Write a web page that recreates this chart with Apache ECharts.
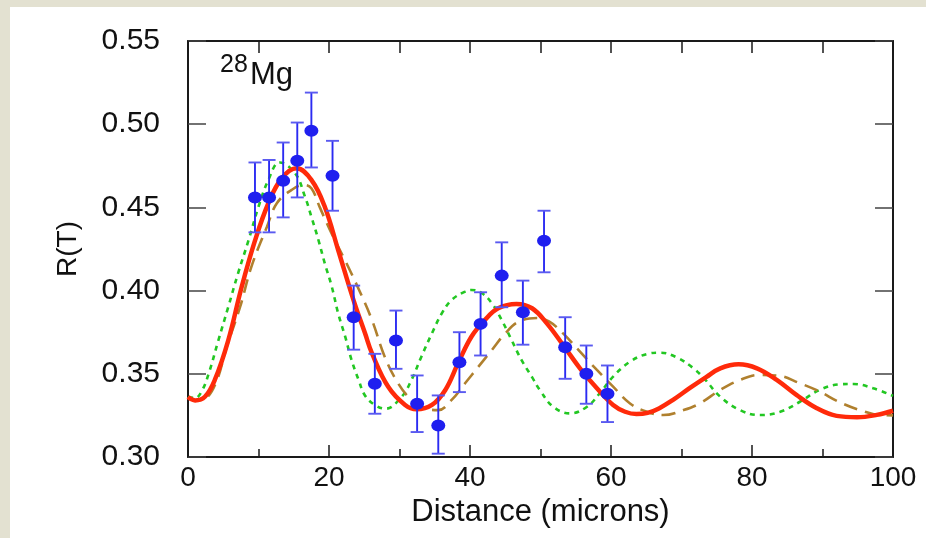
<!DOCTYPE html>
<html>
<head>
<meta charset="utf-8">
<script src="https://cdn.jsdelivr.net/npm/echarts@6/dist/echarts.min.js"></script>
<style>
html,body{margin:0;padding:0;background:#fff;}
#c{width:926px;height:538px;}
</style>
</head>
<body>
<div id="c"></div>
<script>
// Measured data points with error bars
const dataX = [9.5, 11.5, 13.5, 15.5, 17.5, 20.5, 23.5, 26.5, 29.5, 32.5, 35.5, 38.5, 41.5, 44.5, 47.5, 50.5, 53.5, 56.5, 59.5];
const dataY = [0.456, 0.456, 0.466, 0.478, 0.496, 0.469, 0.384, 0.344, 0.370, 0.332, 0.319, 0.357, 0.380, 0.409, 0.387, 0.430, 0.366, 0.350, 0.338];
const errLow = [0.435, 0.435, 0.444, 0.456, 0.474, 0.448, 0.3645, 0.326, 0.353, 0.315, 0.302, 0.339, 0.361, 0.390, 0.3675, 0.411, 0.347, 0.332, 0.321];
const errHigh = [0.477, 0.4785, 0.489, 0.501, 0.519, 0.490, 0.403, 0.362, 0.388, 0.349, 0.337, 0.375, 0.399, 0.429, 0.406, 0.448, 0.384, 0.367, 0.355];

// Red solid curve
const redX = [0, 1, 2.4, 3.8, 5.7, 7.6, 9.5, 11.4, 13.3, 15.4, 17.5, 19.4, 21.3, 23.5, 25.1, 26.1, 28.4, 30.8, 32.4, 34.6, 36.5, 38.3, 40.2, 42.1, 44, 46.6, 48.8, 50.9, 53.2, 55.6, 58, 60.3, 62, 63.6, 65.2, 66.8, 68.8, 71.2, 73.5, 75.5, 78.1, 80.7, 83.5, 86.3, 89.2, 92, 94.9, 97.7, 100];
const redY = [0.336, 0.334, 0.3362, 0.3463, 0.370, 0.402, 0.430, 0.4525, 0.4675, 0.4735, 0.4665, 0.4504, 0.4244, 0.394, 0.3745, 0.3623, 0.3422, 0.3313, 0.3287, 0.3313, 0.3403, 0.3563, 0.3723, 0.3823, 0.3894, 0.392, 0.3894, 0.3803, 0.3673, 0.3533, 0.3413, 0.3313, 0.3272, 0.3258, 0.3265, 0.3292, 0.3343, 0.3415, 0.348, 0.3533, 0.3557, 0.3533, 0.3463, 0.3373, 0.3293, 0.3247, 0.3239, 0.3253, 0.3278];

// Brown long-dashed curve
const brownX = [0, 1, 2.4, 4, 5.5, 7.4, 9.0, 11.2, 12.6, 14.7, 16.4, 17.5, 18.7, 20.4, 22.3, 24.2, 26.1, 27.9, 29.8, 31.7, 33.6, 35.5, 37.4, 39.3, 41.2, 43.1, 45, 46.9, 49.5, 51.2, 53.2, 55.6, 58, 60.3, 62.7, 65.1, 67.4, 70.3, 72.6, 75.5, 78.3, 81.1, 83.5, 86.8, 89.6, 92.3, 95.3, 98.2, 100];
const brownY = [0.336, 0.334, 0.335, 0.345, 0.3663, 0.3903, 0.4144, 0.4384, 0.4525, 0.4605, 0.4635, 0.4615, 0.450, 0.434, 0.418, 0.401, 0.3823, 0.3603, 0.3443, 0.3343, 0.3293, 0.3282, 0.3343, 0.3443, 0.3543, 0.3643, 0.3743, 0.3813, 0.3835, 0.3815, 0.3743, 0.3633, 0.3523, 0.3423, 0.3322, 0.3272, 0.3252, 0.3282, 0.3322, 0.3403, 0.3463, 0.3493, 0.349, 0.3443, 0.3393, 0.3332, 0.3282, 0.3252, 0.325];

// Green short-dashed curve
const greenX = [0, 1, 2, 3, 4.3, 5.7, 7.1, 8.6, 10, 11.4, 13, 15.2, 16.6, 17.5, 18.5, 19.4, 20.4, 21.3, 22.3, 23.2, 24.2, 25.1, 26.5, 28, 30.3, 31.7, 33.1, 34.6, 36, 37.4, 39.3, 40.2, 41.7, 43.1, 44.5, 45.9, 47.3, 48.8, 49.9, 51.8, 54.2, 56.6, 58.4, 60.3, 62.7, 65.1, 67, 69.3, 71.7, 73.3, 75.5, 78.3, 81.1, 84, 86.8, 89.6, 92.5, 94.4, 97.2, 100];
const greenY = [0.336, 0.3355, 0.340, 0.351, 0.370, 0.390, 0.4104, 0.4304, 0.4504, 0.4665, 0.477, 0.4705, 0.4564, 0.4444, 0.4304, 0.4164, 0.4023, 0.3863, 0.3723, 0.3583, 0.3463, 0.337, 0.3313, 0.329, 0.3362, 0.3463, 0.3603, 0.3743, 0.3863, 0.3944, 0.3994, 0.4004, 0.3984, 0.3924, 0.3823, 0.3703, 0.3583, 0.348, 0.3403, 0.3302, 0.3262, 0.3302, 0.3383, 0.3483, 0.3573, 0.3619, 0.3627, 0.3599, 0.3533, 0.3468, 0.3362, 0.3282, 0.3252, 0.3272, 0.3332, 0.3403, 0.3437, 0.3439, 0.3413, 0.3367];

// Axis ticks
const xTicks = {min: 0, max: 100, interval: 20};
const yTicks = {min: 0.30, max: 0.55, interval: 0.05};

const FONT = "'Liberation Sans', Arial, sans-serif";
const AX = '#1a1a1a';
const zip = (xs, ys) => xs.map((x, i) => [x, ys[i]]);

const chart = echarts.init(document.getElementById('c'), null, {renderer: 'canvas'});
chart.setOption({
  animation: false,
  backgroundColor: '#ffffff',
  graphic: [
    {type: 'rect', left: 0, top: 0, shape: {width: 10, height: 538}, style: {fill: '#e3e1d1'}, z: -10},
    {type: 'rect', left: 0, top: 0, shape: {width: 926, height: 7}, style: {fill: '#e3e1d1'}, z: -10},
    {type: 'text', left: 220, top: 53, style: {text: '28', font: '25px ' + FONT, fill: '#111'}, z: 100},
    {type: 'text', left: 250, top: 60, style: {text: 'Mg', font: '31px ' + FONT, fill: '#111'}, z: 100}
  ],
  grid: {left: 188, right: 33, top: 41, bottom: 81, containLabel: false},
  xAxis: [
    {
      type: 'value', position: 'bottom', min: xTicks.min, max: xTicks.max, interval: xTicks.interval,
      name: 'Distance (microns)', nameLocation: 'middle', nameGap: 37,
      nameTextStyle: {fontFamily: FONT, fontSize: 31, color: '#111'},
      axisLine: {show: true, onZero: false, lineStyle: {color: AX, width: 2}},
      axisTick: {show: true, inside: true, length: 12, lineStyle: {color: AX, width: 1.5}},
      minorTick: {show: true, splitNumber: 2, length: 8, lineStyle: {color: AX, width: 1.5}},
      axisLabel: {fontFamily: FONT, fontSize: 28, color: '#111', margin: 7},
      splitLine: {show: false}
    },
    {
      type: 'value', position: 'top', min: 0, max: 100, interval: 10,
      axisLine: {show: true, onZero: false, lineStyle: {color: AX, width: 2}},
      axisTick: {show: true, inside: true, length: 12, lineStyle: {color: AX, width: 1.5}},
      axisLabel: {show: false}, splitLine: {show: false}
    }
  ],
  yAxis: [
    {
      type: 'value', position: 'left', min: yTicks.min, max: yTicks.max, interval: yTicks.interval,
      name: 'R(T)', nameLocation: 'middle', nameGap: 106, nameRotate: 90,
      nameTextStyle: {fontFamily: FONT, fontSize: 28, color: '#111'},
      axisLine: {show: true, onZero: false, lineStyle: {color: AX, width: 2}},
      axisTick: {show: true, inside: true, length: 18, lineStyle: {color: '#444', width: 1.5}},
      axisLabel: {fontFamily: FONT, fontSize: 30, color: '#111', margin: 28, formatter: v => v.toFixed(2)},
      splitLine: {show: false}
    },
    {
      type: 'value', position: 'right', min: yTicks.min, max: yTicks.max, interval: yTicks.interval,
      axisLine: {show: true, onZero: false, lineStyle: {color: AX, width: 2}},
      axisTick: {show: true, inside: true, length: 18, lineStyle: {color: '#444', width: 1.5}},
      axisLabel: {show: false}, splitLine: {show: false}
    }
  ],
  series: [
    {
      type: 'line', data: zip(greenX, greenY), smooth: 0.4, showSymbol: false, z: 3,
      lineStyle: {color: '#22c722', width: 2.6, type: [5, 5]}
    },
    {
      type: 'line', data: zip(brownX, brownY), smooth: 0.4, showSymbol: false, z: 4,
      lineStyle: {color: '#b0802e', width: 2.6, type: [14, 8]}
    },
    {
      type: 'line', data: zip(redX, redY), smooth: 0.4, showSymbol: false, z: 5,
      lineStyle: {color: '#ff2a0a', width: 4.5}
    },
    {
      type: 'custom', z: 6,
      data: dataX.map((x, i) => [x, errLow[i], errHigh[i]]),
      encode: {x: 0, y: [1, 2]},
      renderItem: function (params, api) {
        const x = api.value(0);
        const lo = api.coord([x, api.value(1)]);
        const hi = api.coord([x, api.value(2)]);
        const hw = 6.5;
        const st = {stroke: '#2b2bf2', lineWidth: 1.9};
        const cs = {stroke: '#5a5af0', lineWidth: 1.9};
        return {
          type: 'group',
          children: [
            {type: 'line', shape: {x1: hi[0], y1: hi[1], x2: lo[0], y2: lo[1]}, style: st},
            {type: 'line', shape: {x1: hi[0] - hw, y1: hi[1], x2: hi[0] + hw, y2: hi[1]}, style: cs},
            {type: 'line', shape: {x1: lo[0] - hw, y1: lo[1], x2: lo[0] + hw, y2: lo[1]}, style: cs}
          ]
        };
      }
    },
    {
      type: 'scatter', data: zip(dataX, dataY), z: 7,
      symbol: 'circle', symbolSize: [14, 12],
      itemStyle: {color: '#1f1fef', opacity: 1}
    }
  ]
});
</script>
</body>
</html>
